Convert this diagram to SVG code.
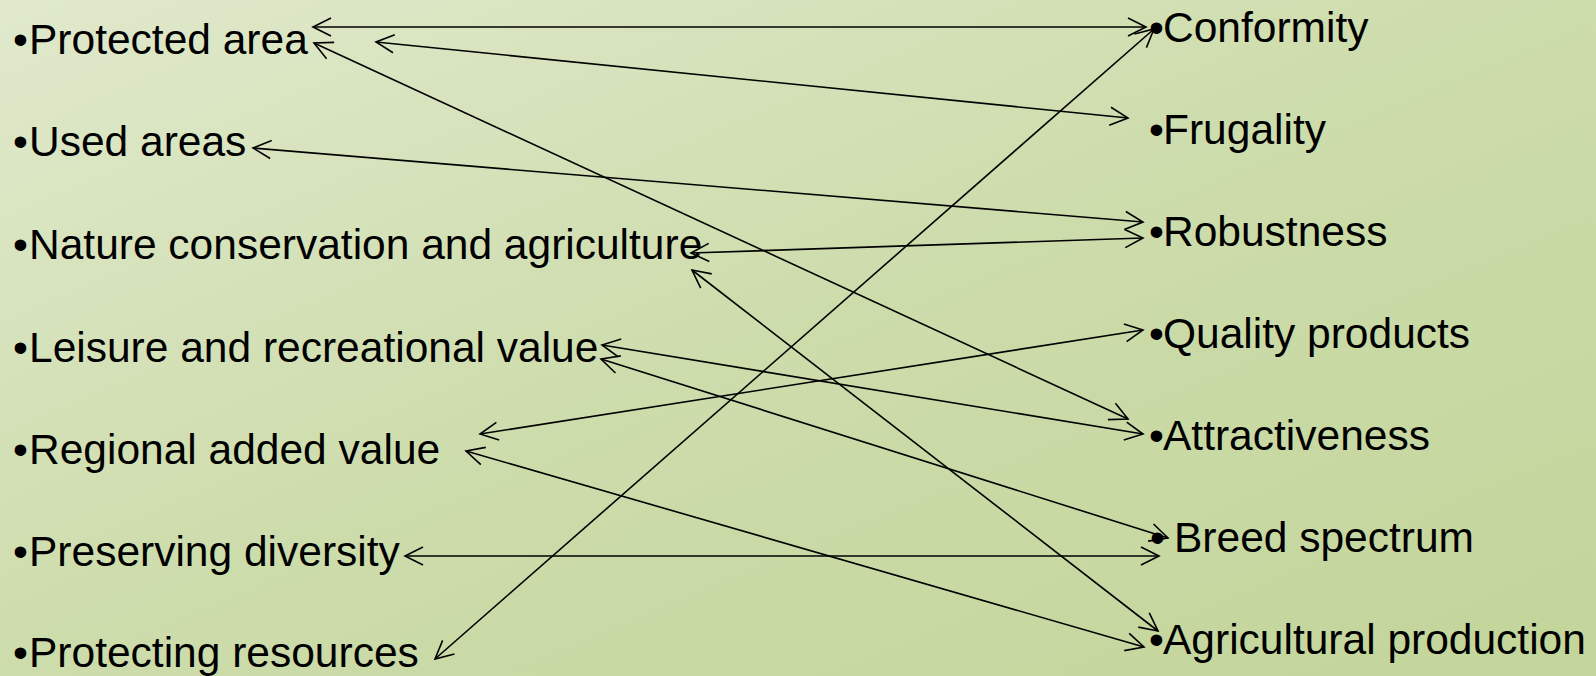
<svg xmlns="http://www.w3.org/2000/svg" width="1596" height="676" viewBox="0 0 1596 676">
<defs>
<linearGradient id="bg" x1="0" y1="0" x2="1" y2="1">
<stop offset="0" stop-color="#e0e9cc"/>
<stop offset="0.5" stop-color="#cddcab"/>
<stop offset="1" stop-color="#c2d59a"/>
</linearGradient>
<marker id="ah" viewBox="-21 -11 23 22" refX="0" refY="0" markerWidth="23" markerHeight="22" markerUnits="userSpaceOnUse" orient="auto-start-reverse">
<path d="M-18,-9 L0,0 L-18,9" fill="none" stroke="#000" stroke-width="1.6"/>
</marker>
<style>
text{font-family:"Liberation Sans",Arial,sans-serif;font-size:42.5px;fill:#000}
.c line{stroke:#000;stroke-width:1.6;marker-start:url(#ah);marker-end:url(#ah)}
</style>
</defs>
<rect width="1596" height="676" fill="url(#bg)"/>
<g id="left">
<g id="n-protected-area"><text y="54"><tspan x="13">•</tspan><tspan x="29">Protected area</tspan></text></g>
<g id="n-used-areas"><text y="156"><tspan x="13">•</tspan><tspan x="29">Used areas</tspan></text></g>
<g id="n-nature"><text y="259"><tspan x="13">•</tspan><tspan x="29">Nature conservation and agriculture</tspan></text></g>
<g id="n-leisure"><text y="362"><tspan x="13">•</tspan><tspan x="29">Leisure and recreational value</tspan></text></g>
<g id="n-regional"><text y="464"><tspan x="13">•</tspan><tspan x="29">Regional added value</tspan></text></g>
<g id="n-preserving"><text y="566"><tspan x="13">•</tspan><tspan x="29">Preserving diversity</tspan></text></g>
<g id="n-protecting"><text y="667"><tspan x="13">•</tspan><tspan x="29">Protecting resources</tspan></text></g>
</g>
<g id="right">
<g id="n-conformity"><text y="42"><tspan x="1149">•</tspan><tspan x="1163">Conformity</tspan></text></g>
<g id="n-frugality"><text y="144"><tspan x="1149">•</tspan><tspan x="1163">Frugality</tspan></text></g>
<g id="n-robustness"><text y="246"><tspan x="1149">•</tspan><tspan x="1163">Robustness</tspan></text></g>
<g id="n-quality"><text y="348"><tspan x="1149">•</tspan><tspan x="1163">Quality products</tspan></text></g>
<g id="n-attractiveness"><text y="450"><tspan x="1149">•</tspan><tspan x="1163">Attractiveness</tspan></text></g>
<g id="n-breed"><text y="552"><tspan x="1150">•</tspan><tspan x="1174">Breed spectrum</tspan></text></g>
<g id="n-agricultural"><text y="654"><tspan x="1149">•</tspan><tspan x="1163">Agricultural production</tspan></text></g>
</g>
<g id="connectors" class="c">
<line x1="313" y1="27" x2="1146" y2="27"/>
<line x1="376" y1="42" x2="1128" y2="118"/>
<line x1="314" y1="43" x2="1128" y2="419"/>
<line x1="253" y1="148" x2="1143" y2="222"/>
<line x1="691" y1="253" x2="1143" y2="238"/>
<line x1="692" y1="270" x2="1158" y2="631"/>
<line x1="1154" y1="29" x2="435" y2="659"/>
<line x1="602" y1="345" x2="1143" y2="434"/>
<line x1="601" y1="359" x2="1168" y2="538"/>
<line x1="480" y1="434" x2="1143" y2="330"/>
<line x1="466" y1="451" x2="1144" y2="647"/>
<line x1="405" y1="556" x2="1159" y2="556"/>
</g>
</svg>
